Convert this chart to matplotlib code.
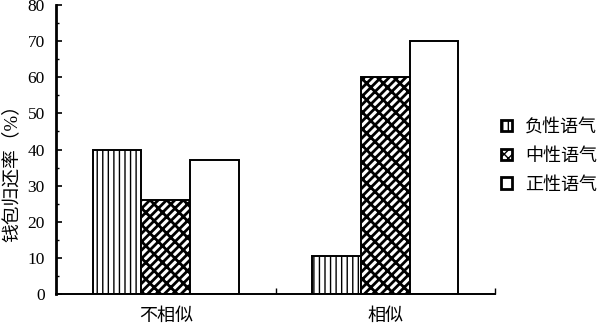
import numpy as np
import matplotlib.pyplot as plt

plt.rcParams['font.family'] = ['Liberation Serif', 'Noto Sans CJK SC', 'DejaVu Sans']
plt.rcParams['hatch.linewidth'] = 1.0

categories = ['不相似', '相似']
series = ['负性语气', '中性语气', '正性语气']
neg = [40, 10.5]
neu = [26, 60]
pos = [37, 70]

fig = plt.figure(figsize=(6, 3.24), dpi=100)
ax = fig.add_axes([56 / 600, 30 / 324, 439 / 600, 289 / 324])

x = np.arange(len(categories))
w = 0.222
hatches = ['|||', '////\\\\', '']
hlw = [1.0, 2.0, 1.0]
for i, (vals, h) in enumerate(zip([neg, neu, pos], hatches)):
    bars = ax.bar(x + (i - 1) * w, vals, w, facecolor='white', edgecolor='black',
                  linewidth=1.4, hatch=h, label=series[i])
    for b in bars:
        try:
            b.set_hatch_linewidth(hlw[i])
        except AttributeError:
            pass

ax.set_xlim(-0.5, 1.5)
ax.set_ylim(0, 80)
ax.set_yticks(np.arange(0, 81, 10))
ax.set_yticks(np.arange(0, 81, 5), minor=True)
ax.set_xticks(x)
ax.set_xticklabels(categories, fontsize=13)
ax.set_xticks([0.5, 1.5], minor=True)
ax.tick_params(axis='x', which='major', length=0, pad=10)
ax.tick_params(axis='x', which='minor', direction='in', length=4, width=1)
ax.tick_params(axis='y', which='major', direction='in', length=4, width=1.2,
               labelsize=12.5, pad=8)
ax.tick_params(axis='y', which='minor', direction='in', length=2.5, width=1)
for s in ['top', 'right']:
    ax.spines[s].set_visible(False)
ax.spines['left'].set_linewidth(2)
ax.spines['bottom'].set_linewidth(1.4)
fig.text(12 / 600, 1 - 169 / 324, '钱包归还率（%）', fontsize=13.5,
         rotation=90, ha='center', va='center')

leg = fig.legend(loc='upper left', bbox_to_anchor=(501 / 600, 1 - 119 / 324),
                 frameon=False, fontsize=13, handlelength=0.6, handleheight=0.6,
                 handletextpad=0.75, labelspacing=0.65, borderpad=0, borderaxespad=0)
for p in leg.get_patches():
    p.set_linewidth(2)

fig.savefig('out.png', dpi=100)
